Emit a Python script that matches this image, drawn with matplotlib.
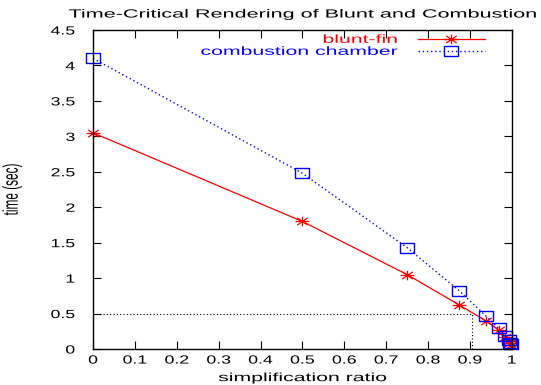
import matplotlib
matplotlib.use("Agg")
import matplotlib.pyplot as plt
from matplotlib.path import Path
from matplotlib.patheffects import AbstractPathEffect
from matplotlib.transforms import Affine2D

plt.rcParams["font.family"] = ["Liberation Sans", "DejaVu Sans"]

# simplification ratio vs. rendering time
ratio = [0.0, 0.5, 0.75, 0.875, 0.9375, 0.96875, 0.984375, 0.9921875, 0.99609, 0.998]
blunt_fin = [3.05, 1.80, 1.05, 0.62, 0.40, 0.27, 0.17, 0.11, 0.08, 0.06]
combustion = [4.10, 2.48, 1.43, 0.82, 0.47, 0.29, 0.19, 0.13, 0.09, 0.07]

# time budget and the ratio that meets it
budget = 0.5
budget_ratio = 0.905

xticks = [i / 10 for i in range(11)]
xtick_labels = ["0", "0.1", "0.2", "0.3", "0.4", "0.5", "0.6", "0.7", "0.8", "0.9", "1"]
yticks = [i / 2 for i in range(10)]
ytick_labels = ["0", "0.5", "1", "1.5", "2", "2.5", "3", "3.5", "4", "4.5"]


class Stretch(AbstractPathEffect):
    """Widen glyphs horizontally about the left/center/right of the ink."""

    def __init__(self, sx, anchor="center"):
        super().__init__()
        self.sx = sx
        self.anchor = anchor

    def draw_path(self, renderer, gc, tpath, affine, rgbFace=None):
        ext = tpath.get_extents(affine)
        x0 = {"left": ext.x0, "center": 0.5 * (ext.x0 + ext.x1), "right": ext.x1}[self.anchor]
        t = affine + Affine2D().translate(-x0, 0).scale(self.sx, 1).translate(x0, 0)
        renderer.draw_path(gc, tpath, t, rgbFace)


# wide box and wide 8-spoke asterisk, gnuplot-like points
box = [(-1.45, -1), (1.45, -1), (1.45, 1), (-1.45, 1), (-1.45, -1)]
star = Path([(-1.45, 0), (1.45, 0), (0, -1), (0, 1),
             (-1.1, -0.75), (1.1, 0.75), (-1.1, 0.75), (1.1, -0.75)],
            [Path.MOVETO, Path.LINETO] * 4)

fs = 8.5
fig = plt.figure(figsize=(5.41, 3.85), dpi=100)
ax = fig.add_axes([0.172, 0.0935, 0.774, 0.8285])

ax.plot([0, budget_ratio], [budget, budget], color="black", ls=(0, (1, 2)), lw=0.8)
ax.plot([budget_ratio, budget_ratio], [0, budget], color="black", ls=(0, (1, 2)), lw=0.8)

ax.plot(ratio, blunt_fin, color="red", lw=0.9, marker=star, ms=10,
        mew=0.9, label="blunt-fin", clip_on=False)
ax.plot(ratio, combustion, color="blue", lw=1.0, ls=(0, (1, 2)), marker=box,
        ms=10.5, mew=1.0, mfc="none", label="combustion chamber", clip_on=False)

ax.set_xlim(0, 1)
ax.set_ylim(0, 4.5)
ax.set_xticks(xticks)
ax.set_xticklabels(xtick_labels)
ax.set_yticks(yticks)
ax.set_yticklabels(ytick_labels)
ax.tick_params(direction="in", top=True, right=True, length=6, width=0.8, labelsize=fs)
ax.tick_params(axis="x", pad=4)
ax.tick_params(axis="y", pad=13)
for s in ax.spines.values():
    s.set_linewidth(1.0)

for lab in ax.get_xticklabels():
    lab.set_path_effects([Stretch(1.5, "center")])
for lab in ax.get_yticklabels():
    lab.set_path_effects([Stretch(1.5, "right")])

xl = ax.set_xlabel("simplification ratio", fontsize=fs, labelpad=4)
xl.set_path_effects([Stretch(1.8, "center")])
yl = ax.set_ylabel("time (sec)", fontsize=fs, labelpad=29)
yl.set_path_effects([Stretch(1.8, "center")])
title = ax.set_title("Time-Critical Rendering of Blunt and Combustion", fontsize=fs, pad=9)
title.set_path_effects([Stretch(1.83, "center")])

leg = ax.legend(loc="upper right", bbox_to_anchor=(0.9356, 0.988), frameon=False,
                markerfirst=False, labelcolor="linecolor", fontsize=fs,
                handlelength=5.7, handletextpad=1.7, labelspacing=0.0,
                borderpad=0, borderaxespad=0)
for t in leg.get_texts():
    t.set_ha("right")
    t.set_path_effects([Stretch(1.8, "right")])

fig.savefig("out.png", dpi=100)
